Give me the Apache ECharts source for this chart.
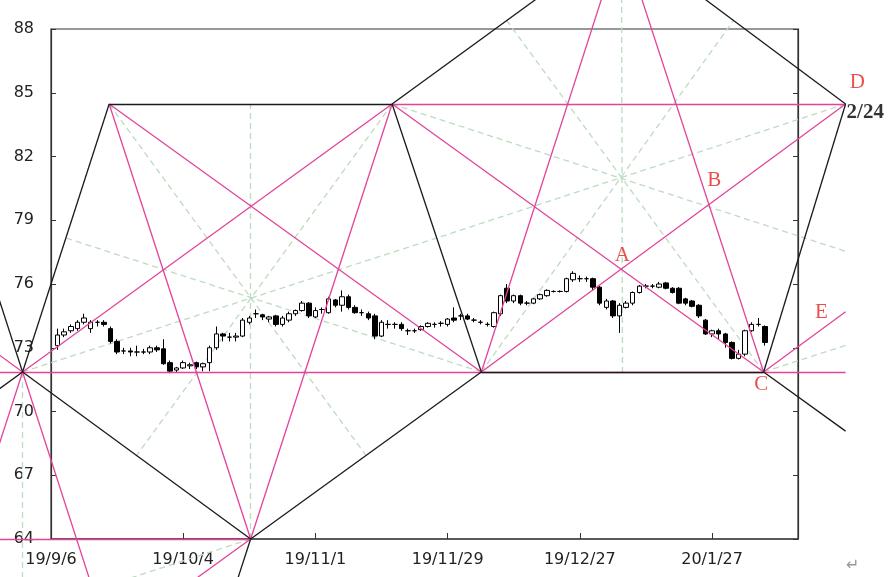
<!DOCTYPE html>
<html>
<head>
<meta charset="utf-8">
<title>chart</title>
<script src="https://cdn.jsdelivr.net/npm/echarts@6.0.0/dist/echarts.min.js"></script>
<style>
  html, body { margin: 0; padding: 0; background: #fff; }
  #main { width: 890px; height: 577px; }
</style>
</head>
<body>
<div id="main"></div>
<script>
// 日付（横軸）
var dates = [
  '19/9/6', '19/9/9', '19/9/10', '19/9/11', '19/9/12', '19/9/13', '19/9/16', '19/9/17', '19/9/18', '19/9/19',
  '19/9/20', '19/9/23', '19/9/24', '19/9/25', '19/9/26', '19/9/27', '19/9/30', '19/10/1', '19/10/2', '19/10/3',
  '19/10/4', '19/10/7', '19/10/8', '19/10/9', '19/10/10', '19/10/11', '19/10/14', '19/10/15', '19/10/16', '19/10/17',
  '19/10/18', '19/10/21', '19/10/22', '19/10/23', '19/10/24', '19/10/25', '19/10/28', '19/10/29', '19/10/30', '19/10/31',
  '19/11/1', '19/11/4', '19/11/5', '19/11/6', '19/11/7', '19/11/8', '19/11/11', '19/11/12', '19/11/13', '19/11/14',
  '19/11/15', '19/11/18', '19/11/19', '19/11/20', '19/11/21', '19/11/22', '19/11/25', '19/11/26', '19/11/27', '19/11/28',
  '19/11/29', '19/12/2', '19/12/3', '19/12/4', '19/12/5', '19/12/6', '19/12/9', '19/12/10', '19/12/11', '19/12/12',
  '19/12/13', '19/12/16', '19/12/17', '19/12/18', '19/12/19', '19/12/20', '19/12/23', '19/12/24', '19/12/25', '19/12/26',
  '19/12/27', '19/12/30', '19/12/31', '20/1/2', '20/1/3', '20/1/6', '20/1/7', '20/1/8', '20/1/9', '20/1/10',
  '20/1/13', '20/1/14', '20/1/15', '20/1/16', '20/1/17', '20/1/20', '20/1/21', '20/1/22', '20/1/23', '20/1/24',
  '20/1/27', '20/1/28', '20/1/29', '20/1/30', '20/1/31', '20/2/3', '20/2/4', '20/2/5', '20/2/6', '20/2/7',
  '20/2/10', '20/2/11', '20/2/12', '20/2/13'
];

// 四本値 [始値, 終値, 安値, 高値]（先頭の日は空）
var ohlc = [
  ['-', '-', '-', '-'],
  [73.1, 73.6, 72.9, 73.9], [73.6, 73.75, 73.5, 73.9], [73.8, 74.0, 73.7, 74.1], [73.9, 74.2, 73.8, 74.3], [74.2, 74.4, 74.1, 74.6],
  [73.9, 74.2, 73.7, 74.3], [74.2, 74.2, 74.0, 74.3], [74.2, 74.1, 74.0, 74.3], [73.9, 73.3, 73.2, 74.0], [73.3, 72.8, 72.7, 73.4],
  [72.85, 72.85, 72.7, 73.0], [72.85, 72.8, 72.6, 73.0], [72.8, 72.8, 72.6, 73.1], [72.8, 72.8, 72.7, 72.95], [72.8, 73.0, 72.7, 73.1],
  [73.0, 72.9, 72.8, 73.1], [72.95, 72.25, 72.2, 73.4], [72.3, 71.9, 71.8, 72.4], [71.95, 72.05, 71.85, 72.1], [72.05, 72.3, 72.0, 72.4],
  [72.15, 72.2, 72.0, 72.3], [72.3, 72.1, 72.0, 72.35], [72.1, 72.25, 71.9, 72.3], [72.3, 73.0, 71.9, 73.1], [73.0, 73.65, 72.9, 74.0],
  [73.65, 73.55, 73.3, 73.7], [73.5, 73.5, 73.3, 73.7], [73.5, 73.55, 73.3, 73.7], [73.55, 74.3, 73.5, 74.4], [74.2, 74.4, 74.1, 74.5],
  [74.6, 74.6, 74.4, 74.8], [74.55, 74.45, 74.3, 74.6], [74.35, 74.45, 74.2, 74.5], [74.5, 74.1, 74.0, 74.55], [74.1, 74.4, 74.0, 74.5],
  [74.3, 74.6, 74.2, 74.7], [74.6, 74.75, 74.5, 74.8], [74.75, 75.1, 74.7, 75.2], [75.1, 74.5, 74.4, 75.15], [74.45, 74.75, 74.4, 74.9],
  [74.8, 74.8, 74.6, 74.9], [74.65, 75.3, 74.6, 75.4], [75.25, 75.0, 74.9, 75.3], [75.0, 75.4, 74.7, 75.7], [75.4, 74.9, 74.8, 75.5],
  [74.9, 74.65, 74.6, 75.0], [74.65, 74.65, 74.5, 74.8], [74.6, 74.4, 74.3, 74.7], [74.5, 73.55, 73.4, 74.6], [73.55, 74.2, 73.5, 74.3],
  [74.1, 74.1, 73.9, 74.3], [74.1, 74.1, 73.9, 74.2], [74.1, 73.9, 73.8, 74.2], [73.8, 73.8, 73.6, 73.9], [73.8, 73.8, 73.7, 73.9],
  [73.85, 74.0, 73.8, 74.05], [74.0, 74.15, 73.95, 74.2], [74.1, 74.1, 73.95, 74.2], [74.15, 74.15, 74.0, 74.25], [74.1, 74.35, 74.0, 74.4],
  [74.4, 74.3, 74.2, 74.9], [74.5, 74.5, 74.3, 74.6], [74.5, 74.35, 74.3, 74.6], [74.3, 74.3, 74.2, 74.4], [74.2, 74.2, 74.1, 74.3],
  [74.1, 74.1, 74.0, 74.2], [74.0, 74.65, 73.95, 74.7], [74.6, 75.45, 74.5, 75.5], [75.8, 75.2, 75.1, 76.0], [75.2, 75.45, 75.1, 75.5],
  [75.45, 75.1, 75.0, 75.5], [75.1, 75.1, 75.0, 75.2], [75.1, 75.3, 75.05, 75.35], [75.3, 75.5, 75.25, 75.55], [75.45, 75.7, 75.4, 75.75],
  [75.65, 75.65, 75.6, 75.7], [75.65, 75.65, 75.6, 75.7], [75.65, 76.25, 75.6, 76.3], [76.2, 76.5, 76.1, 76.6], [76.25, 76.25, 76.1, 76.4],
  [76.25, 76.25, 76.1, 76.35], [76.25, 75.85, 75.7, 76.3], [75.85, 75.1, 75.0, 75.9], [74.9, 75.2, 74.8, 75.3], [75.2, 74.5, 74.4, 75.25],
  [74.5, 75.0, 73.7, 75.1], [74.9, 75.1, 74.85, 75.2], [75.1, 75.6, 75.0, 75.65], [75.6, 75.9, 75.55, 75.95], [75.9, 75.9, 75.8, 76.0],
  [75.9, 75.9, 75.8, 76.0], [75.85, 76.0, 75.8, 76.1], [76.05, 75.8, 75.75, 76.1], [75.8, 75.6, 75.55, 75.85], [75.8, 75.1, 75.05, 75.85],
  [75.3, 75.1, 75.0, 75.35], [75.2, 74.95, 74.9, 75.25], [75.0, 74.5, 74.4, 75.05], [74.3, 73.65, 73.6, 74.35], [73.65, 73.8, 73.5, 73.85],
  [73.8, 73.65, 73.4, 73.9], [73.65, 73.25, 73.0, 73.7], [73.25, 72.5, 72.45, 73.3], [72.5, 72.7, 72.45, 72.9], [72.7, 73.8, 72.6, 73.85],
  [73.8, 74.1, 73.75, 74.2], [74.1, 74.1, 74.0, 74.4], [74.0, 73.25, 73.1, 74.05]
];

// 作図の頂点 [日付インデックス, 価格]
var LOW = 71.86, TOP = 84.47;
var P1 = [-4.3, LOW];
var T1 = [8.8, TOP];
var B1 = [30.2, 64];
var T2 = [51.6, TOP];
var M = [65.1, LOW];
var AP = [86.3, 92.33];
var C = [107.8, LOW];
var D = [120.2, TOP];
var CEN1 = [30.2, 75.34];

// 文字ラベル [x, 価格, 文字]
var marks = [
  [86.43, 77.36, 'A'],
  [100.35, 80.85, 'B'],
  [107.46, 71.25, 'C'],
  [121.98, 85.46, 'D'],
  [116.53, 74.64, 'E']
];
var dateMark = [[120.2, 84.09, '2/24']];

function ext(a, b, k) { return [a[0] + (a[0] - b[0]) * k, a[1] + (a[1] - b[1]) * k]; }
function mid(a, b) { return [(a[0] + b[0]) / 2, (a[1] + b[1]) / 2]; }
function atX(a, b, x) { var t = (x - a[0]) / (b[0] - a[0]); return [x, a[1] + (b[1] - a[1]) * t]; }

var T1m = [2 * P1[0] - T1[0], T1[1]];
var E = atX(M, D, D[0]);
E = [D[0], C[1] + (E[1] - M[1]) * (D[0] - C[0]) / (D[0] - M[0])];

var blackSegs = [
  [P1, T1], [T1, T2], [T2, M], [M, C], [P1, B1], [B1, M],
  [T2, AP], [AP, D], [D, C], [C, atX(T2, C, D[0])],
  [P1, T1m], [P1, atX(T2, P1, -12)], [B1, ext(B1, T2, 0.3)]
];
var pinkSegs = [
  [T1, B1], [T1, M], [P1, T2], [B1, T2], [[-12, LOW], [D[0], LOW]],
  [M, AP], [C, AP], [T2, D], [T2, C], [M, D], [C, E],
  [[-12, 64], B1], [P1, atX(B1, P1, -12)], [P1, ext(P1, T1, 1)],
  [P1, ext(P1, T1m, 1)], [B1, ext(B1, M, 0.5)]
];
var greenSegs = [
  [P1, mid(T2, M)], [M, mid(P1, T1)], [T1, mid(M, B1)], [T2, mid(P1, B1)], [B1, mid(T1, T2)],
  [M, mid(AP, D)], [C, mid(T2, AP)], [T2, atX(T2, mid(C, D), D[0])], [D, mid(M, T2)], [AP, mid(M, C)],
  [P1, [P1[0], 58]],
  [C, atX(C, [C[0] + CEN1[0] - P1[0], C[1] + CEN1[1] - P1[1]], D[0])],
  [B1, [B1[0] - (CEN1[0] - P1[0]), B1[1] - (CEN1[1] - P1[1])]]
];

function linesSeries(segs, color, type, z) {
  return {
    type: 'lines',
    coordinateSystem: 'cartesian2d',
    xAxisIndex: 1,
    yAxisIndex: 0,
    polyline: false,
    clip: false,
    silent: true,
    z: z,
    lineStyle: { color: color, width: 1.3, type: type, opacity: 1, dashOffset: 0 },
    data: segs.map(function (s) { return { coords: s }; })
  };
}

var chart = echarts.init(document.getElementById('main'));
var axisFont = { fontFamily: 'DejaVu Sans', fontSize: 16, color: '#222' };

chart.setOption({
  animation: false,
  backgroundColor: '#fff',
  grid: { left: 51, right: 92, top: 29, bottom: 38, show: true, borderColor: '#333', borderWidth: 1.2, backgroundColor: 'transparent' },
  xAxis: [
    {
      type: 'category',
      data: dates,
      boundaryGap: false,
      axisLine: { lineStyle: { color: '#444', width: 1.5 } },
      axisTick: { inside: true, length: 6, interval: 19, lineStyle: { color: '#333' } },
      axisLabel: Object.assign({ interval: 19, margin: 13 }, axisFont),
      splitLine: { show: false }
    },
    { type: 'value', min: 0, max: 113, show: false }
  ],
  yAxis: [
    {
      type: 'value', min: 64, max: 88, interval: 3, position: 'left',
      axisLine: { show: true, lineStyle: { color: '#333', width: 1.2 } },
      axisTick: { show: true, inside: true, length: 5, lineStyle: { color: '#333' } },
      axisLabel: Object.assign({ margin: 17 }, axisFont),
      splitLine: { show: false }
    },
    {
      type: 'value', min: 64, max: 88, interval: 3, position: 'right',
      axisLine: { show: true, lineStyle: { color: '#333', width: 1.2 } },
      axisTick: { show: true, inside: true, length: 5, lineStyle: { color: '#333' } },
      axisLabel: { show: false },
      splitLine: { show: false }
    }
  ],
  series: [
    linesSeries(greenSegs, '#bcdcbf', [6, 4], 1),
    {
      type: 'candlestick',
      data: ohlc,
      barWidth: 5,
      z: 2,
      itemStyle: { color: '#fff', color0: '#000', borderColor: '#000', borderColor0: '#000', borderWidth: 1 }
    },
    linesSeries(pinkSegs, '#e2449a', 'solid', 3),
    linesSeries(blackSegs, '#1a1a1a', 'solid', 4),
    {
      type: 'scatter',
      xAxisIndex: 1,
      yAxisIndex: 0,
      clip: false,
      symbolSize: 0,
      z: 6,
      data: marks,
      label: {
        show: true, position: 'inside', formatter: function (p) { return p.value[2]; },
        fontFamily: 'Liberation Serif', fontSize: 21, color: '#e3241f'
      }
    },
    {
      type: 'scatter',
      xAxisIndex: 1,
      yAxisIndex: 0,
      clip: false,
      symbolSize: 0,
      z: 6,
      data: dateMark,
      label: {
        show: true, position: 'right', distance: 1, formatter: function (p) { return p.value[2]; },
        fontFamily: 'Liberation Serif', fontWeight: 'bold', fontSize: 21, color: '#000'
      }
    }
  ],
  graphic: [
    { type: 'text', left: 846, top: 558, style: { text: '\u21b5', font: '16px DejaVu Sans', fill: '#999' } }
  ]
});
</script>
</body>
</html>
